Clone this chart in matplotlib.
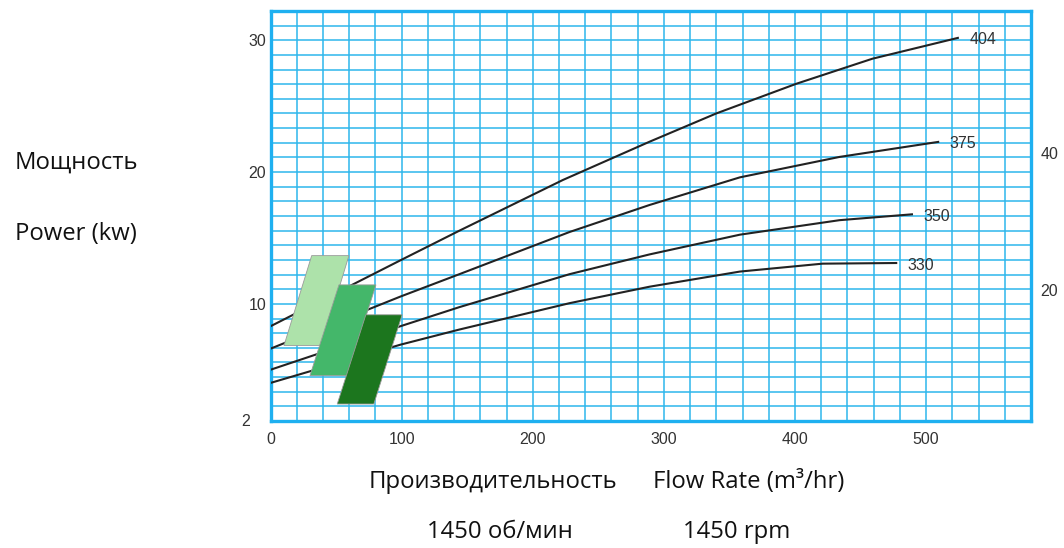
import numpy as np
import matplotlib
matplotlib.use("Agg")
import matplotlib.pyplot as plt
from matplotlib.patches import Polygon

# power curves, flow (m3/hr) vs power (kW)
flow_404 = [0, 99, 144, 223, 289, 340, 401, 459, 525]
power_404 = [8.3, 13.3, 15.55, 19.4, 22.3, 24.45, 26.7, 28.6, 30.2]
flow_375 = [0, 99, 144, 228, 289, 358, 434, 510]
power_375 = [6.6, 10.55, 12.25, 15.45, 17.5, 19.6, 21.15, 22.3]
flow_350 = [0, 99, 144, 228, 289, 358, 434, 490]
power_350 = [5.0, 8.3, 9.75, 12.25, 13.75, 15.25, 16.35, 16.8]
flow_330 = [0, 99, 144, 228, 289, 358, 421, 478]
power_330 = [4.0, 6.9, 8.05, 10.05, 11.3, 12.45, 13.05, 13.1]
curve_names = ["404", "375", "350", "330"]

# green zones (parallelograms), corners in data units
zone_light = [(10.3, 6.84), (31.4, 13.66), (59.8, 13.66), (39.0, 6.84)]
zone_mid = [(30.1, 4.55), (52.2, 11.44), (80.4, 11.44), (58.5, 4.55)]
zone_dark = [(50.9, 2.40), (72.7, 9.17), (100.4, 9.17), (78.8, 2.40)]

x_ticks = [0, 100, 200, 300, 400, 500]
y_ticks = [10, 20, 30]
right_ticks = [20, 40]

GRID = "#2db7ec"
step_y = 10 / 9.0
y_lo, y_hi = 1 * step_y, 29 * step_y

fig = plt.figure(figsize=(10.64, 5.48), dpi=100)
ax = fig.add_axes([270.5 / 1064, 1 - 421 / 548, (1031 - 270.5) / 1064, (421 - 11) / 548])

ax.set_xlim(0, 580)
ax.set_ylim(y_lo, y_hi)
ax.xaxis.remove_overlapping_locs = False
ax.yaxis.remove_overlapping_locs = False
ax.set_xticks(np.arange(0, 581, 20), minor=True)
ax.set_yticks(np.arange(1, 30) * step_y, minor=True)
ax.grid(True, which="minor", color=GRID, lw=1.1)
ax.set_axisbelow(True)
for s in ax.spines.values():
    s.set_color("#1fb0f0")
    s.set_linewidth(2.4)

ax.set_xticks(x_ticks)
ax.set_xticklabels([str(v) for v in x_ticks], fontsize=11.5, family="Liberation Sans", color="#333333")
ax.set_yticks(y_ticks)
ax.set_yticklabels([str(v) for v in y_ticks], fontsize=11.5, family="Liberation Sans", color="#333333")
ax.tick_params(which="both", length=0)
ax.tick_params(axis="x", pad=8)
ax.tick_params(axis="y", pad=3)
ax.annotate("2", xy=(0, y_lo), xytext=(-15, 0), textcoords="offset points",
            ha="right", va="center", fontsize=11.5, family="Liberation Sans", color="#333333")

curves = [(flow_404, power_404), (flow_375, power_375), (flow_350, power_350), (flow_330, power_330)]
for (fx, py), name in zip(curves, curve_names):
    ax.plot(fx, py, color="#222222", lw=1.5, solid_capstyle="butt", solid_joinstyle="round", zorder=3)
    ax.annotate(name, xy=(fx[-1], py[-1]), xytext=(7.5, -1.5), textcoords="offset points",
                ha="left", va="center", fontsize=11.5, family="Liberation Sans", color="#333333")

for pts, col in [(zone_light, "#ade2aa"), (zone_mid, "#44b76a"), (zone_dark, "#1c761e")]:
    ax.add_patch(Polygon(pts, closed=True, facecolor=col, edgecolor="#9a9a9a", lw=0.6, zorder=4))

# right-hand scale
ax2 = ax.twinx()
ax2.set_ylim(0.83, 60.8)
ax2.set_yticks(right_ticks)
ax2.set_yticklabels([str(v) for v in right_ticks], fontsize=11.5, family="Liberation Sans", color="#333333")
ax2.tick_params(length=0, pad=7)
for s in ax2.spines.values():
    s.set_visible(False)

txt = dict(family="Open Sans", fontsize=17.2, color="#111111", va="center")
fig.text(76 / 1064, 1 - 163 / 548, "Мощность", ha="center", **txt)
fig.text(76 / 1064, 1 - 234 / 548, "Power (kw)", ha="center", **txt)
fig.text(493 / 1064, 1 - 482 / 548, "Производительность", ha="center", **txt)
fig.text(749 / 1064, 1 - 482 / 548, "Flow Rate (m³/hr)", ha="center", **txt)
fig.text(500 / 1064, 1 - 532 / 548, "1450 об/мин", ha="center", **txt)
fig.text(737 / 1064, 1 - 532 / 548, "1450 rpm", ha="center", **txt)

fig.savefig("out.png", dpi=100)
